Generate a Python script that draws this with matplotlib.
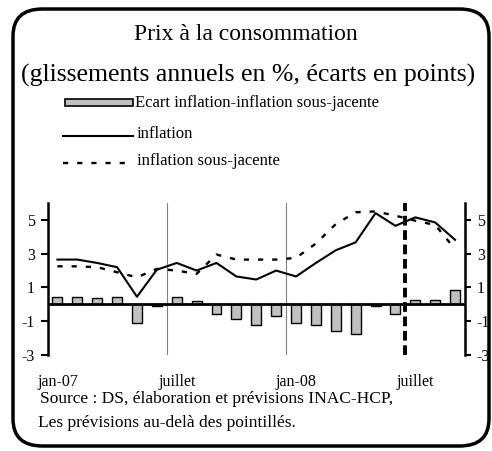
import matplotlib
matplotlib.use("Agg")
import matplotlib.pyplot as plt
from matplotlib.patches import FancyBboxPatch, Rectangle
from matplotlib.lines import Line2D
import numpy as np

plt.rcParams['font.family'] = ['Liberation Serif', 'DejaVu Serif']

months = ["jan-07", "fév-07", "mar-07", "avr-07", "mai-07", "jun-07", "juil-07", "aoû-07",
          "sep-07", "oct-07", "nov-07", "déc-07", "jan-08", "fév-08", "mar-08", "avr-08",
          "mai-08", "jun-08", "juil-08", "aoû-08", "sep-08"]
inflation = [2.65, 2.65, 2.45, 2.2, 0.45, 2.05, 2.45, 2.0, 2.45, 1.65, 1.47, 2.0,
             1.65, 2.45, 3.2, 3.67, 5.4, 4.65, 5.15, 4.85, 3.82]
sous_jacente = [2.25, 2.25, 2.2, 1.9, 1.6, 2.1, 2.0, 1.8, 2.95, 2.65, 2.65, 2.65,
                2.75, 3.6, 4.75, 5.45, 5.5, 5.25, 4.95, 4.7, 3.27]
ecart = [0.45, 0.45, 0.35, 0.45, -1.12, -0.07, 0.45, 0.2, -0.6, -0.88, -1.24, -0.69,
         -1.12, -1.24, -1.57, -1.76, -0.07, -0.59, 0.24, 0.24, 0.82]
tick_pos = [0, 6, 12, 18]
tick_labels = ["jan-07", "juillet", "jan-08", "juillet"]
yticks = [-3, -1, 1, 3, 5]

W, H = 492, 451
fig = plt.figure(figsize=(W / 100, H / 100), dpi=100)

def fx(x):
    return x / W

def fy(y):
    return 1 - y / H

# rounded frame
frame = FancyBboxPatch((fx(13), fy(446)), fx(476), (446 - 9) / H,
                       boxstyle="round,pad=0,rounding_size=0.06",
                       transform=fig.transFigure, fill=False, lw=2.5, ec='black', zorder=10)
fig.patches.append(frame)

ax = fig.add_axes([fx(47.5), fy(355), fx(465 - 47.5), (355 - 203) / H])
x = np.arange(len(months))
ax.bar(x, ecart, width=0.5, color='#c0c0c0', edgecolor='black', lw=1.0, zorder=3)
ax.plot(x, inflation, color='black', lw=1.5, zorder=4)
ax.plot(x, sous_jacente, color='black', lw=1.7, ls=(0, (2.2, 3.8)), zorder=4)
ax.axhline(0, color='black', lw=2, zorder=5)
ax.axvline(5.5, color='#808080', lw=0.8, zorder=1)
ax.axvline(11.5, color='#808080', lw=0.8, zorder=1)
ax.axvline(17.5, color='black', lw=2.8, ls=(0, (2.5, 1.2)), zorder=6, clip_on=False)

ax.set_xlim(-0.5, 20.5)
ax.set_ylim(-3, 6)
ax.set_yticks(yticks)
ax.set_yticklabels([str(v) for v in yticks], fontsize=11.5)
ax.tick_params(axis='y', left=True, right=False, direction='out', length=5, width=1.5, pad=4)
ax.set_xticks(tick_pos)
ax.set_xticklabels(tick_labels, fontsize=11.5)
ax.tick_params(axis='x', length=0, pad=14)
for s in ['top', 'bottom', 'right']:
    ax.spines[s].set_visible(False)
ax.spines['left'].set_linewidth(1.8)
ax.patch.set_alpha(0)

ax2 = ax.twinx()
ax2.set_ylim(-3, 6)
ax2.set_yticks(yticks)
ax2.set_yticklabels([str(v) for v in yticks], fontsize=11.5)
ax2.tick_params(axis='y', direction='out', length=4, width=1.5, pad=4.5)
for s in ['top', 'bottom', 'left']:
    ax2.spines[s].set_visible(False)
ax2.spines['right'].set_linewidth(1.8)

# titles
fig.text(fx(246), fy(35), "Prix à la consommation", ha='center', va='center', fontsize=17)
fig.text(fx(248), fy(75), "(glissements annuels en %, écarts en points)", ha='center',
         va='center', fontsize=18.5)

# legend
fig.patches.append(Rectangle((fx(65), fy(105.5)), fx(68), 6.5 / H, transform=fig.transFigure,
                             fc='#c0c0c0', ec='black', lw=1.2))
fig.text(fx(135), fy(103), "Ecart inflation-inflation sous-jacente", ha='left', va='center',
         fontsize=12)
fig.add_artist(Line2D([fx(63), fx(133)], [fy(136), fy(136)], color='black', lw=1.5,
                      transform=fig.transFigure))
fig.text(fx(137), fy(134), "inflation", ha='left', va='center', fontsize=12)
fig.add_artist(Line2D([fx(63), fx(133)], [fy(163), fy(163)], color='black', lw=1.7,
                      ls=(0, (2.2, 3.8)), transform=fig.transFigure))
fig.text(fx(137), fy(161), "inflation sous-jacente", ha='left', va='center', fontsize=12)

# source
fig.text(fx(40), fy(399), "Source : DS, élaboration et prévisions INAC-HCP,", ha='left',
         va='center', fontsize=12.5)
fig.text(fx(38), fy(423), "Les prévisions au-delà des pointillés.", ha='left', va='center',
         fontsize=12.5)

fig.savefig("out.png", dpi=100)
